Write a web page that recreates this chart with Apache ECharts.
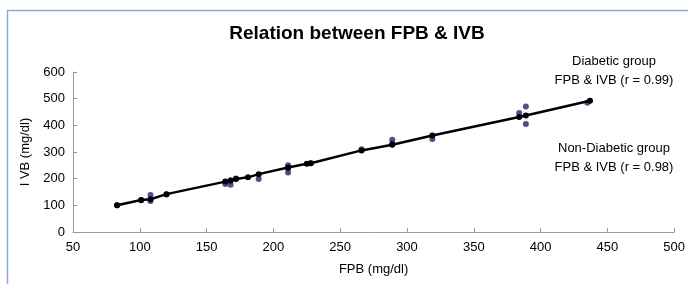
<!DOCTYPE html>
<html>
<head>
<meta charset="utf-8">
<script src="https://cdn.jsdelivr.net/npm/echarts@6/dist/echarts.min.js"></script>
<style>
  html, body { margin: 0; padding: 0; background: #fff; }
  #chart { width: 688px; height: 284px; }
</style>
</head>
<body>
<div id="chart"></div>
<script>
// fitted values (black, joined by the line)
const fitFpb = [83, 101, 108, 120, 164, 168, 172, 181, 189, 211, 225, 228, 266, 289, 319, 384, 389, 437];
const fitIvb = [100, 120, 123, 142, 189, 193, 199, 205, 217, 242, 256, 258, 306, 327, 362, 431, 437, 492];

// observed values (blue dots)
const obsFpb = [83, 101, 108, 108, 120, 164, 168, 168, 172, 189, 211, 211, 211, 228, 266, 289, 289, 319, 384, 389, 389, 435];
const obsIvb = [100, 119, 139, 116, 141, 180, 177, 193, 201, 199, 250, 223, 238, 258, 310, 346, 332, 349, 446, 471, 405, 485];

const xTicks = [50, 100, 150, 200, 250, 300, 350, 400, 450, 500];
const yTicks = [0, 100, 200, 300, 400, 500, 600];

const font = 'Liberation Sans, Arial, sans-serif';

const myChart = echarts.init(document.getElementById('chart'));

const option = {
  animation: false,
  backgroundColor: '#fff',
  title: {
    text: 'Relation between FPB & IVB',
    left: 352,
    top: 19,
    textAlign: 'center',
    textStyle: { fontFamily: font, fontSize: 19, fontWeight: 'bold', color: '#000' }
  },
  grid: { left: 73, right: 11, top: 72, bottom: 52 },
  xAxis: {
    type: 'value',
    min: xTicks[0],
    max: xTicks[xTicks.length - 1],
    interval: 50,
    name: 'FPB (mg/dl)',
    nameLocation: 'middle',
    nameGap: 31,
    nameTextStyle: { fontFamily: font, fontSize: 13, color: '#000' },
    axisLine: { lineStyle: { color: '#999', width: 1 } },
    axisTick: { inside: true, length: 4, lineStyle: { color: '#999' } },
    axisLabel: { fontFamily: font, fontSize: 13, color: '#000', margin: 9 },
    splitLine: { show: false }
  },
  yAxis: {
    type: 'value',
    min: yTicks[0],
    max: yTicks[yTicks.length - 1],
    interval: 100,
    name: 'I VB (mg/dl)',
    nameLocation: 'middle',
    nameGap: 40,
    nameTextStyle: { fontFamily: font, fontSize: 13, color: '#000' },
    axisLine: { show: true, lineStyle: { color: '#999', width: 1 } },
    axisTick: { show: true, inside: true, length: 4, lineStyle: { color: '#999' } },
    axisLabel: { fontFamily: font, fontSize: 13, color: '#000', margin: 8 },
    splitLine: { show: false }
  },
  series: [
    {
      type: 'scatter',
      data: obsFpb.map((x, i) => [x, obsIvb[i]]),
      symbolSize: 6,
      itemStyle: { color: '#23236f' },
      z: 2
    },
    {
      type: 'line',
      data: fitFpb.map((x, i) => [x, fitIvb[i]]),
      symbol: 'circle',
      symbolSize: 6,
      showSymbol: true,
      lineStyle: { color: '#000', width: 2.5 },
      itemStyle: { color: '#000' },
      z: 3
    }
  ],
  graphic: [
    {
      type: 'rect',
      shape: { x: 7.5, y: 10.5, width: 700, height: 300 },
      style: { fill: 'none', stroke: '#8ea9d8', lineWidth: 1.5 },
      silent: true
    },
    {
      type: 'text',
      x: 614, y: 52,
      style: {
        text: 'Diabetic group\nFPB & IVB (r = 0.99)',
        textAlign: 'center',
        font: '13px ' + font,
        lineHeight: 19,
        fill: '#000'
      }
    },
    {
      type: 'text',
      x: 614, y: 139,
      style: {
        text: 'Non-Diabetic group\nFPB & IVB (r = 0.98)',
        textAlign: 'center',
        font: '13px ' + font,
        lineHeight: 19,
        fill: '#000'
      }
    }
  ]
};

option && myChart.setOption(option);
</script>
</body>
</html>
